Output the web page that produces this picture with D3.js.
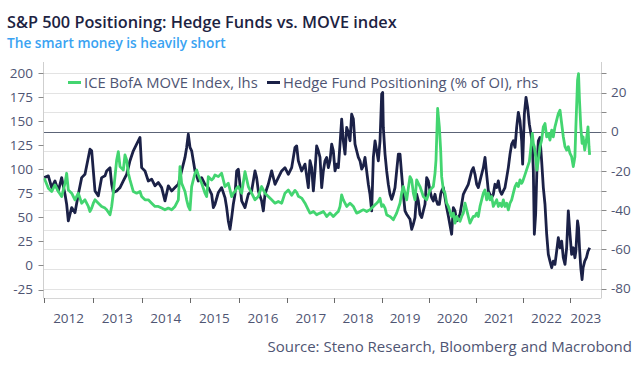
<!DOCTYPE html>
<html>
<head>
<meta charset="utf-8">
<script src="https://cdn.jsdelivr.net/npm/d3@7/dist/d3.min.js"></script>
<style>
  body { margin: 0; background: #fff; }
  svg { display: block; font-family: "Open Sans", "Noto Sans", sans-serif; }
</style>
</head>
<body>
<div id="chart"></div>
<script>
// decimal years
var dates = [
  2012.000, 2012.083, 2012.152, 2012.220, 2012.289, 2012.357, 2012.426, 2012.460, 2012.494, 2012.563,
  2012.631, 2012.700, 2012.769, 2012.837, 2012.906, 2012.940, 2012.975, 2013.009, 2013.043, 2013.112,
  2013.180, 2013.249, 2013.283, 2013.352, 2013.386, 2013.420, 2013.489, 2013.523, 2013.558, 2013.626,
  2013.660, 2013.695, 2013.729, 2013.763, 2013.832, 2013.900, 2013.969, 2014.003, 2014.072, 2014.140,
  2014.209, 2014.278, 2014.346, 2014.415, 2014.483, 2014.552, 2014.621, 2014.689, 2014.758, 2014.792,
  2014.826, 2014.895, 2014.929, 2014.963, 2014.998, 2015.032, 2015.066, 2015.101, 2015.135, 2015.169,
  2015.238, 2015.306, 2015.341, 2015.375, 2015.443, 2015.478, 2015.512, 2015.581, 2015.649, 2015.718,
  2015.752, 2015.786, 2015.821, 2015.855, 2015.889, 2015.924, 2015.958, 2015.992, 2016.026, 2016.061,
  2016.129, 2016.198, 2016.266, 2016.335, 2016.369, 2016.404, 2016.472, 2016.507, 2016.541, 2016.609,
  2016.678, 2016.747, 2016.815, 2016.884, 2016.952, 2017.022, 2017.093, 2017.163, 2017.199, 2017.234,
  2017.305, 2017.376, 2017.446, 2017.482, 2017.517, 2017.553, 2017.588, 2017.623, 2017.659, 2017.694,
  2017.730, 2017.765, 2017.800, 2017.836, 2017.871, 2017.906, 2017.942, 2017.977, 2018.013, 2018.048,
  2018.083, 2018.119, 2018.154, 2018.189, 2018.225, 2018.260, 2018.296, 2018.331, 2018.366, 2018.402,
  2018.437, 2018.472, 2018.508, 2018.543, 2018.579, 2018.614, 2018.649, 2018.685, 2018.720, 2018.755,
  2018.791, 2018.826, 2018.862, 2018.897, 2018.932, 2018.968, 2019.003, 2019.024, 2019.038, 2019.074,
  2019.109, 2019.144, 2019.180, 2019.215, 2019.251, 2019.286, 2019.321, 2019.357, 2019.392, 2019.427,
  2019.463, 2019.498, 2019.534, 2019.604, 2019.640, 2019.675, 2019.710, 2019.746, 2019.781, 2019.816,
  2019.852, 2019.887, 2019.923, 2019.958, 2019.993, 2020.029, 2020.064, 2020.099, 2020.135, 2020.156,
  2020.191, 2020.227, 2020.255, 2020.276, 2020.312, 2020.347, 2020.382, 2020.418, 2020.488, 2020.524,
  2020.559, 2020.595, 2020.630, 2020.665, 2020.701, 2020.736, 2020.771, 2020.807, 2020.842, 2020.878,
  2020.913, 2020.948, 2020.984, 2021.019, 2021.054, 2021.090, 2021.125, 2021.161, 2021.196, 2021.231,
  2021.267, 2021.302, 2021.337, 2021.373, 2021.408, 2021.444, 2021.479, 2021.514, 2021.550, 2021.585,
  2021.620, 2021.656, 2021.691, 2021.727, 2021.762, 2021.797, 2021.833, 2021.868, 2021.903, 2021.939,
  2021.974, 2021.995, 2022.031, 2022.066, 2022.101, 2022.137, 2022.172, 2022.200, 2022.222, 2022.243,
  2022.271, 2022.299, 2022.328, 2022.363, 2022.398, 2022.434, 2022.469, 2022.505, 2022.540, 2022.575,
  2022.611, 2022.646, 2022.681, 2022.717, 2022.752, 2022.788, 2022.823, 2022.858, 2022.894, 2022.929,
  2022.964, 2023.000, 2023.035, 2023.071, 2023.106, 2023.127, 2023.163, 2023.184, 2023.205, 2023.233,
  2023.261, 2023.283, 2023.318, 2023.354, 2023.389, 2023.410, 2023.424
];

// ICE BofA MOVE Index (lhs)
var moveIndex = [
  90.6, 80.3, 76.8, 83.7, 76.8, 71.6, 85.4, 95.8, 78.5, 75.1,
  68.2, 75.1, 64.7, 68.2, 61.3, 56.1, 59.6, 64.7, 68.2, 64.7,
  61.3, 59.6, 57.8, 52.7, 61.3, 75.1, 109.6, 118.2, 102.7, 99.2,
  114.8, 109.6, 95.8, 88.9, 76.8, 75.1, 76.8, 71.6, 68.2, 68.2,
  64.7, 61.3, 61.3, 59.6, 57.8, 59.6, 57.8, 61.3, 68.2, 102.7,
  85.4, 76.8, 68.2, 61.3, 57.8, 82.0, 88.9, 95.8, 99.2, 94.1,
  85.4, 75.1, 71.6, 92.3, 88.9, 90.6, 94.1, 92.3, 95.8, 82.0,
  83.7, 85.4, 78.5, 71.6, 75.1, 76.8, 80.3, 82.0, 78.5, 75.1,
  97.5, 82.0, 75.1, 68.2, 69.9, 71.6, 82.0, 78.5, 75.1, 71.6,
  68.2, 64.7, 66.5, 64.7, 75.1, 78.5, 73.0, 78.0, 76.0, 72.0,
  70.0, 64.7, 57.8, 54.4, 55.1, 56.1, 54.4, 52.7, 53.7, 54.4,
  55.1, 56.1, 53.7, 50.9, 52.7, 54.4, 52.7, 50.9, 52.7, 54.4,
  56.1, 61.3, 73.4, 68.2, 64.7, 61.3, 63.0, 64.7, 63.0, 61.3,
  57.8, 54.4, 55.1, 56.1, 57.1, 57.8, 57.1, 56.1, 57.1, 57.8,
  59.6, 61.3, 63.0, 64.7, 66.5, 69.9, 61.3, 62.0, 63.0, 59.6,
  52.7, 51.6, 50.9, 49.2, 47.5, 50.9, 54.4, 59.6, 64.7, 75.1,
  82.0, 75.1, 68.2, 92.3, 88.9, 75.1, 68.2, 88.9, 85.4, 82.0,
  76.8, 71.6, 69.9, 68.2, 73.4, 78.5, 80.3, 82.0, 95.8, 109.6,
  163.1, 144.1, 119.9, 92.3, 78.5, 75.1, 64.7, 61.3, 50.9, 54.4,
  44.0, 50.9, 47.5, 45.8, 50.9, 54.4, 64.7, 57.8, 50.9, 44.0,
  47.5, 50.9, 50.9, 54.4, 50.9, 61.3, 68.2, 75.1, 78.5, 68.2,
  75.1, 68.2, 71.6, 61.3, 64.7, 68.2, 61.3, 64.7, 61.3, 68.2,
  61.3, 64.7, 57.8, 64.7, 68.2, 75.1, 82.0, 85.4, 82.0, 88.9,
  85.4, 87.2, 92.3, 97.5, 102.7, 107.9, 123.4, 137.2, 126.8, 123.4,
  113.0, 99.2, 109.6, 123.4, 130.3, 144.1, 147.5, 133.7, 137.2, 130.3,
  140.6, 133.7, 144.1, 151.0, 157.9, 161.4, 147.5, 133.7, 123.4, 119.9,
  123.4, 116.5, 113.0, 102.7, 113.0, 144.1, 192.4, 199.3, 171.7, 144.1,
  126.8, 133.7, 119.9, 130.3, 144.1, 123.4, 114.8
];

// Hedge Fund Positioning, % of OI (rhs)
var hfPositioning = [
  -23.4, -22.5, -28.5, -25.1, -30.2, -23.4, -31.9, -37.0, -45.5, -38.7,
  -41.3, -31.9, -23.4, -21.7, -13.1, -8.9, -9.7, -20.0, -30.2, -32.7,
  -23.4, -22.5, -20.0, -18.3, -26.8, -31.0, -30.2, -29.3, -28.5, -25.1,
  -23.4, -21.7, -18.3, -14.8, -9.7, -6.3, -2.9, -18.3, -20.0, -25.1,
  -24.2, -27.6, -25.9, -28.5, -35.3, -27.6, -30.2, -28.5, -26.8, -23.4,
  -20.0, -13.1, -8.0, -1.2, -8.0, -9.7, -14.8, -20.0, -22.5, -25.1,
  -23.4, -26.8, -27.6, -28.5, -31.9, -38.7, -37.0, -31.0, -28.5, -33.6,
  -38.7, -45.5, -49.8, -43.8, -37.0, -31.9, -20.0, -19.1, -26.8, -35.3,
  -38.7, -31.9, -30.2, -20.0, -23.4, -30.2, -35.3, -40.4, -31.9, -26.8,
  -20.0, -26.8, -23.4, -20.0, -18.3, -21.7, -18.3, -8.0, -7.2, -14.8,
  -20.0, -16.5, -28.5, -14.8, -18.3, -30.2, -20.0, -7.2, -9.7, -13.1,
  -28.5, -20.0, -14.8, -13.1, -18.3, -14.8, -6.3, -9.7, -20.0, -16.5,
  -18.3, -6.3, 6.5, -4.6, -11.4, 2.2, -0.3, -4.6, 9.0, 6.5,
  -6.3, -9.7, -13.1, -14.8, -19.1, -17.4, -13.1, -20.0, -26.8, -31.9,
  -40.4, -13.1, -4.6, -9.7, -14.8, -4.6, 19.3, 20.1, 2.2, -11.4,
  -20.0, -26.8, -31.9, -34.5, -31.9, -28.5, -20.0, -11.4, -11.4, -21.7,
  -31.9, -40.4, -42.1, -44.7, -49.8, -47.2, -43.8, -31.9, -35.3, -42.1,
  -43.8, -40.4, -37.0, -23.4, -25.1, -30.2, -33.6, -35.3, -31.9, -34.5,
  -37.0, -37.0, -31.9, -30.2, -28.5, -33.6, -38.7, -43.0, -52.3, -38.7,
  -40.4, -45.5, -43.8, -42.1, -37.0, -31.9, -30.2, -28.5, -26.8, -23.4,
  -20.0, -18.3, -21.7, -26.8, -28.5, -25.1, -21.7, -18.3, -13.1, -21.7,
  -30.2, -31.9, -33.6, -31.9, -26.8, -28.5, -25.1, -30.2, -31.9, -30.2,
  -28.5, -23.4, -18.3, -11.4, -6.3, -4.6, -8.0, 2.2, 9.9, 5.6,
  -4.6, -16.5, 9.0, 17.6, 12.4, 3.9, -1.2, -6.3, -20.0, -52.3,
  -42.1, -18.3, -4.6, -2.9, -14.8, -28.5, -37.0, -52.3, -62.6, -66.0,
  -69.4, -66.0, -67.7, -60.9, -54.1, -59.2, -55.8, -64.3, -67.7, -59.2,
  -40.4, -52.3, -62.6, -59.2, -64.3, -60.9, -45.5, -49.0, -59.2, -69.4,
  -75.4, -69.4, -66.0, -64.3, -60.9, -60.0, -59.2
];

var yearLabels = [2012, 2013, 2014, 2015, 2016, 2017, 2018, 2019, 2020, 2021, 2022, 2023];
var leftTicks = [-25, 0, 25, 50, 75, 100, 125, 150, 175, 200];
var rightTicks = [-80, -70, -60, -50, -40, -30, -20, -10, 0, 10, 20, 30];
var rightLabels = [-80, -60, -40, -20, 0, 20];

var width = 642, height = 367;
var plot = { left: 43.5, right: 601.5, top: 62, bottom: 298 };
var axisText = '#4f5573';
var green = '#43d570';
var navy = '#1b2147';

var svg = d3.select('#chart').append('svg')
  .attr('width', width)
  .attr('height', height);

// x axis spacing in the source is a little uneven, so break the scale at 2017
var x = d3.scaleLinear()
  .domain([2012, 2017, 2023, 2023.68])
  .range([44.3, 287.3, 570, plot.right]);
var yL = d3.scaleLinear().domain([-25, 200]).range([289.5, 73]);
var yR = d3.scaleLinear().domain([-80, 30]).range([288.5, 73]);

// Grid
svg.append('g')
  .selectAll('line')
  .data(rightTicks)
  .join('line')
  .attr('x1', plot.left).attr('x2', plot.right)
  .attr('y1', function (d) { return Math.round(yR(d)) + 0.5; })
  .attr('y2', function (d) { return Math.round(yR(d)) + 0.5; })
  .attr('stroke', function (d) { return d === 0 ? '#5c6477' : '#e3e3e3'; })
  .attr('stroke-width', 1);

// Frame lines
svg.append('line')
  .attr('x1', plot.left).attr('x2', plot.right)
  .attr('y1', plot.bottom + 0.5).attr('y2', plot.bottom + 0.5)
  .attr('stroke', '#d6d6d6');
svg.append('line')
  .attr('x1', plot.left).attr('x2', plot.left)
  .attr('y1', plot.top).attr('y2', plot.bottom)
  .attr('stroke', '#cfcfcf');
svg.append('line')
  .attr('x1', plot.right).attr('x2', plot.right)
  .attr('y1', plot.top).attr('y2', plot.bottom)
  .attr('stroke', '#cfcfcf');

// Left axis
var gl = svg.append('g');
gl.selectAll('line')
  .data(leftTicks)
  .join('line')
  .attr('x1', plot.left - 5).attr('x2', plot.left)
  .attr('y1', function (d) { return Math.round(yL(d)) + 0.5; })
  .attr('y2', function (d) { return Math.round(yL(d)) + 0.5; })
  .attr('stroke', '#8a8a8a');
gl.selectAll('text')
  .data(leftTicks)
  .join('text')
  .attr('x', 33)
  .attr('y', function (d) { return yL(d); })
  .attr('dy', '0.35em')
  .attr('text-anchor', 'end')
  .attr('font-size', 13.5)
  .attr('fill', axisText)
  .text(function (d) { return d; });

// Right axis
var gr = svg.append('g');
gr.selectAll('line')
  .data(rightTicks)
  .join('line')
  .attr('x1', plot.right).attr('x2', plot.right + 5)
  .attr('y1', function (d) { return Math.round(yR(d)) + 0.5; })
  .attr('y2', function (d) { return Math.round(yR(d)) + 0.5; })
  .attr('stroke', '#8a8a8a');
gr.selectAll('text')
  .data(rightLabels)
  .join('text')
  .attr('x', 611)
  .attr('y', function (d) { return yR(d); })
  .attr('dy', '0.35em')
  .attr('font-size', 13.5)
  .attr('fill', axisText)
  .text(function (d) { return d; });

// Bottom axis
var gb = svg.append('g');
gb.selectAll('line')
  .data(yearLabels)
  .join('line')
  .attr('x1', function (d) { return Math.round(x(d)) + 0.5; })
  .attr('x2', function (d) { return Math.round(x(d)) + 0.5; })
  .attr('y1', plot.bottom).attr('y2', plot.bottom + 5)
  .attr('stroke', '#6a6a6a');
gb.selectAll('text')
  .data(yearLabels)
  .join('text')
  .attr('x', function (d) { return (x(d) + Math.min(x(d + 1), plot.right)) / 2; })
  .attr('y', 323)
  .attr('text-anchor', 'middle')
  .attr('font-size', 13.5)
  .attr('fill', axisText)
  .text(function (d) { return d; });

// Lines
svg.append('clipPath').attr('id', 'clip')
  .append('rect')
  .attr('x', plot.left).attr('y', plot.top)
  .attr('width', plot.right - plot.left).attr('height', plot.bottom - plot.top);

var idx = d3.range(dates.length);
var hfLine = d3.line()
  .x(function (i) { return x(dates[i]); })
  .y(function (i) { return yR(hfPositioning[i]); });
var moveLine = d3.line()
  .x(function (i) { return x(dates[i]); })
  .y(function (i) { return yL(moveIndex[i]); });

var lines = svg.append('g').attr('clip-path', 'url(#clip)');
lines.append('path')
  .attr('d', hfLine(idx))
  .attr('fill', 'none')
  .attr('stroke', navy)
  .attr('stroke-width', 2.8)
  .attr('stroke-linejoin', 'round');
lines.append('path')
  .attr('d', moveLine(idx))
  .attr('fill', 'none')
  .attr('stroke', green)
  .attr('stroke-width', 2.8)
  .attr('stroke-linejoin', 'round');

// Legend
var legend = [
  { label: 'ICE BofA MOVE Index, lhs', color: green, x: 68 },
  { label: 'Hedge Fund Positioning (% of OI), rhs', color: navy, x: 267 }
];
var lg = svg.append('g').selectAll('g')
  .data(legend)
  .join('g')
  .attr('transform', function (d) { return 'translate(' + d.x + ',82.5)'; });
lg.append('line')
  .attr('x1', 0).attr('x2', 13)
  .attr('stroke', function (d) { return d.color; })
  .attr('stroke-width', 3);
lg.append('text')
  .attr('x', 16)
  .attr('dy', '0.35em')
  .attr('font-size', 14.8)
  .attr('fill', axisText)
  .text(function (d) { return d.label; });

// Titles
svg.append('text')
  .attr('x', 7).attr('y', 28)
  .attr('font-size', 16.3)
  .attr('font-weight', 600)
  .attr('fill', '#1d2342')
  .text('S&P 500 Positioning: Hedge Funds vs. MOVE index');
svg.append('text')
  .attr('x', 7).attr('y', 48)
  .attr('font-size', 13.7)
  .attr('font-weight', 600)
  .attr('fill', '#3aa3f2')
  .text('The smart money is heavily short');
svg.append('text')
  .attr('x', 632).attr('y', 352)
  .attr('text-anchor', 'end')
  .attr('font-size', 15)
  .attr('fill', axisText)
  .text('Source: Steno Research, Bloomberg and Macrobond');
</script>
</body>
</html>
